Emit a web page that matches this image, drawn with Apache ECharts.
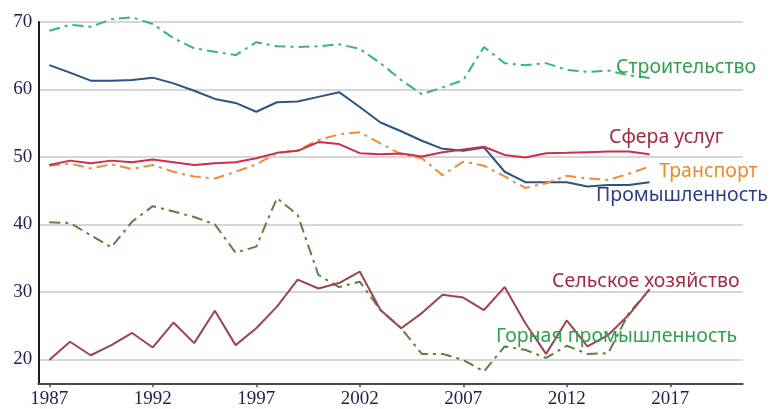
<!DOCTYPE html>
<html>
<head>
<meta charset="utf-8">
<script src="https://cdn.jsdelivr.net/npm/echarts@6/dist/echarts.min.js"></script>
<style>
html,body{margin:0;padding:0;background:#fff;}
#chart{width:771px;height:409px;}
</style>
</head>
<body>
<div id="chart"></div>
<script>
const years = [1987,1988,1989,1990,1991,1992,1993,1994,1995,1996,1997,1998,1999,2000,2001,2002,2003,2004,2005,2006,2007,2008,2009,2010,2011,2012,2013,2014,2015,2016];
const xTickLabels = [1987,1992,1997,2002,2007,2012,2017];
const yTickLabels = [20,30,40,50,60,70];

const construction = [68.7,69.6,69.3,70.4,70.7,69.7,67.6,66.1,65.6,65.1,67.0,66.4,66.3,66.4,66.7,66.0,63.9,61.4,59.3,60.3,61.4,66.3,63.9,63.6,63.9,62.9,62.6,62.8,62.1,61.7];
const industry = [63.6,62.5,61.3,61.3,61.4,61.75,60.9,59.8,58.6,58.0,56.7,58.1,58.2,58.9,59.6,57.4,55.1,53.8,52.4,51.2,50.9,51.4,47.8,46.25,46.25,46.25,45.6,45.85,45.85,46.25];
const services = [48.8,49.45,49.05,49.45,49.2,49.6,49.2,48.8,49.05,49.2,49.8,50.6,50.9,52.2,51.9,50.55,50.4,50.5,50.05,50.7,51.1,51.5,50.3,49.9,50.55,50.6,50.7,50.8,50.8,50.4];
const transport = [48.7,49.0,48.3,48.9,48.2,48.8,47.8,47.1,46.8,47.8,48.9,50.55,51.0,52.5,53.35,53.65,52.0,50.4,49.8,47.3,49.3,48.7,47.1,45.4,46.1,47.2,46.8,46.6,47.5,48.6];
const mining = [40.3,40.2,38.4,36.6,40.4,42.7,41.9,41.1,40.0,35.8,36.7,43.9,41.4,32.5,30.7,31.5,27.3,24.6,20.8,20.8,19.9,18.2,21.9,21.4,20.2,22.0,20.8,20.9,26.85,30.3];
const agriculture = [19.9,22.6,20.6,22.1,23.9,21.75,25.45,22.4,27.2,22.1,24.6,27.8,31.8,30.5,31.3,33.0,27.3,24.6,26.85,29.55,29.15,27.3,30.7,25.35,20.8,25.75,21.9,23.6,26.6,30.4];

const seriesNames = ['Строительство','Промышленность','Сфера услуг','Транспорт','Горная промышленность','Сельское хозяйство'];

function pairs(vals){ return years.map((y,i)=>[y, vals[i]]); }

const chart = echarts.init(document.getElementById('chart'), null, {renderer:'canvas'});

const labelFont = '"Noto Sans", sans-serif';
const axisFont = '"Liberation Serif", "DejaVu Serif", serif';

function mkLine(name, vals, color, type, z){
  return {
    name: name, type: 'line', data: pairs(vals), symbol: 'none', smooth: false, clip: false,
    lineStyle: {color: color, width: 2, type: type},
    z: z, silent: true, animation: false
  };
}

function lbl(text, x, y, color){
  return {type:'text', x: x, y: y, z: 10, silent: true,
    style:{text: text, fill: color, font: '19.5px ' + labelFont, align: 'left', verticalAlign: 'middle'}};
}

const option = {
  animation: false,
  grid: {left: 38.3, right: 28.3, top: 22, bottom: 25.7, containLabel: false},
  xAxis: {
    type: 'value', min: 1986.47, max: 2020.5,
    axisLine: {show: true, lineStyle: {color: '#4a4a4a', width: 2}},
    axisTick: {show: true, length: 4, lineStyle: {color: '#4a4a4a', width: 1.5}, customValues: xTickLabels},
    axisLabel: {customValues: xTickLabels, color: '#1e2050', fontFamily: axisFont, fontSize: 19, margin: 6, formatter: v => String(v)},
    splitLine: {show: false}
  },
  yAxis: {
    type: 'value', min: 16.44, max: 70,
    axisLine: {show: true, lineStyle: {color: '#1a1a1a', width: 2}},
    axisTick: {show: false},
    axisLabel: {customValues: yTickLabels, color: '#1e2050', fontFamily: axisFont, fontSize: 19, margin: 6},
    splitLine: {show: true, lineStyle: {color: '#c8c8c8', width: 1.5}}
  },
  series: [
    mkLine(seriesNames[0], construction, '#36b57c', [11,5,3,5], 3),
    mkLine(seriesNames[1], industry, '#2e5381', 'solid', 3),
    mkLine(seriesNames[3], transport, '#f08a3c', [11,5,3,5], 3),
    mkLine(seriesNames[2], services, '#cf2e4a', 'solid', 4),
    mkLine(seriesNames[4], mining, '#5b7f45', [11,5,3,5], 3),
    mkLine(seriesNames[5], agriculture, '#9c4450', 'solid', 4)
  ],
  graphic: [
    lbl('Строительство', 616, 67, '#2ea24e'),
    lbl('Сфера услуг', 609, 137, '#a82a42'),
    lbl('Транспорт', 659, 171, '#ee8a2e'),
    lbl('Промышленность', 596, 195, '#2f3c8a'),
    lbl('Сельское хозяйство', 552, 281, '#a82a42'),
    lbl('Горная промышленность', 496, 336, '#2ea24e')
  ]
};
chart.setOption(option);
</script>
</body>
</html>
